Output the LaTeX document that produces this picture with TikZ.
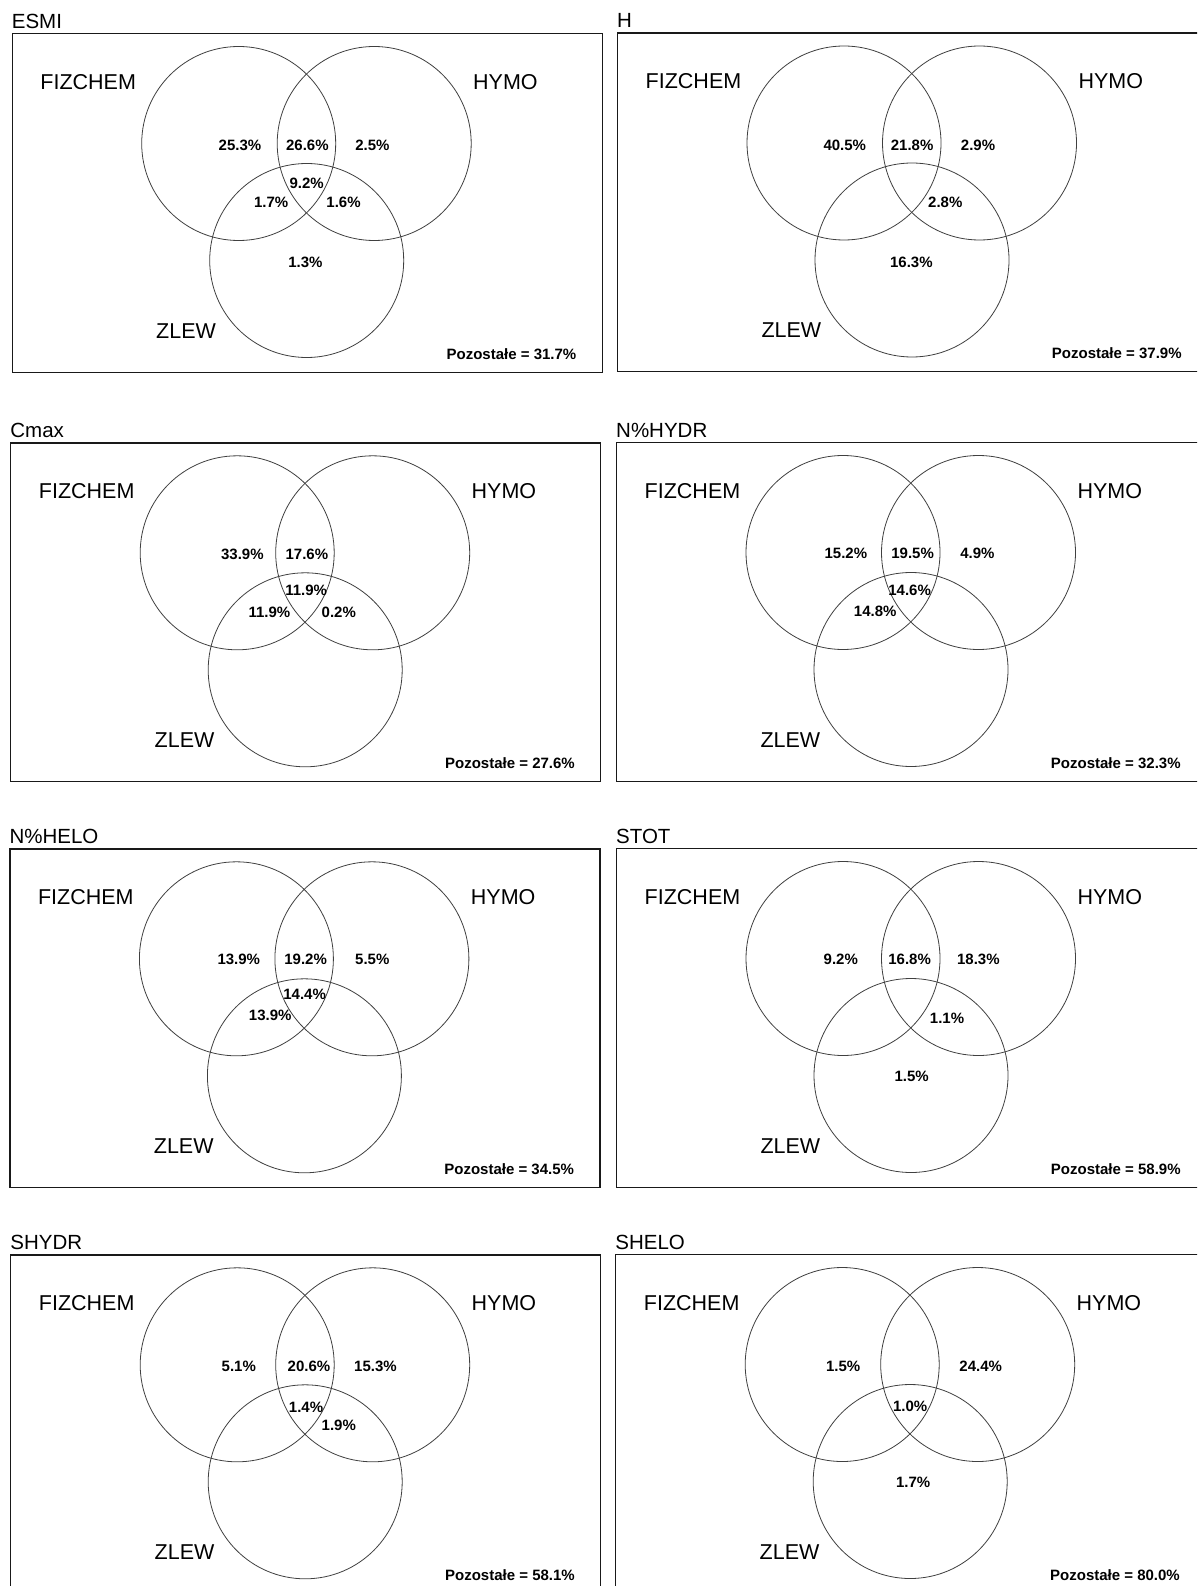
\documentclass[tikz,border=0pt]{standalone}
\usepackage{fontspec}
\setmainfont{Liberation Sans}
\tikzset{
  panelbox/.style={draw=black!90, line width=1.2pt, rectangle, inner sep=0pt,
    minimum width=590pt, minimum height=338.5pt, anchor=north west},
  vcirc/.style={circle, draw=black!75, line width=0.8pt, minimum size=194pt, inner sep=0pt},
  settitle/.style={anchor=base west, inner sep=0pt, font=\fontsize{20.5}{24}\selectfont},
  setname/.style={anchor=base west, inner sep=0pt, font=\fontsize{21.5}{25}\selectfont},
  pct/.style={anchor=center, inner sep=0pt, font=\bfseries\fontsize{15}{17}\selectfont},
  remain/.style={anchor=base east, inner sep=0pt, font=\bfseries\fontsize{15}{17}\selectfont},
}
\newcommand\vennpanel[6]{%
  \begin{scope}[shift={(#2,#3)}]
    \node[panelbox] (#1box) at (0,0) {};
    \node[settitle] (#1title) at (0,-4.5) {#4};
    \node[vcirc] (#1F) at (227,110.5) {};
    \node[vcirc] (#1H) at (362.5,110.5) {};
    \node[vcirc] (#1Z) at (295,227.5) {};
    \node[setname] (#1nF) at (28.5,56.3) {FIZCHEM};
    \node[setname] (#1nH) at (461.3,56.3) {HYMO};
    \node[setname] (#1nZ) at (144.3,305.3) {ZLEW};
    \node[remain] (#1rem) at (564.8,326.3) {Pozostałe = #5};
    \foreach \px/\py/\txt [count=\i] in {#6} {
      \node[pct] (#1p\i) at (\px,\py) {\txt};
    }
  \end{scope}}
\begin{document}
\begin{tikzpicture}[x=1pt,y=-1pt]
  \useasboundingbox (0,0) rectangle (1197,1586);
  \clip (0,0) rectangle (1197,1586);
  \fill[white] (0,0) rectangle (1197,1586);
  \vennpanel{a}{11.7}{33}{ESMI}{31.7\%}{228.3/112/25.3\%, 295.7/112/26.6\%, 360.7/112/2.5\%, 295/150/9.2\%, 259.5/169/1.7\%, 331.8/169/1.6\%, 293.7/229.7/1.3\%}
  \vennpanel{b}{617}{32.5}{H}{37.9\%}{227.8/113.2/40.5\%, 295.1/113.2/21.8\%, 361/113.2/2.9\%, 328.3/170.2/2.8\%, 294.4/229.8/16.3\%}
  \vennpanel{c}{10.2}{442.3}{Cmax}{27.6\%}{232.2/111.7/33.9\%, 296.7/111.7/17.6\%, 295.9/148.4/11.9\%, 259.2/170/11.9\%, 328.6/170/0.2\%}
  \vennpanel{d}{616}{442}{N\%HYDR}{32.3\%}{229.9/111.5/15.2\%, 296.6/111.5/19.5\%, 361.4/111.5/4.9\%, 293.6/147.9/14.6\%, 259.2/169.1/14.8\%}
  \vennpanel{e}{9.4}{848.3}{N\%HELO}{34.5\%}{229.4/110.9/13.9\%, 296.2/110.9/19.2\%, 362.9/110.9/5.5\%, 295.2/146.3/14.4\%, 260.8/167.5/13.9\%}
  \vennpanel{f}{616}{848}{STOT}{58.9\%}{224.8/111.2/9.2\%, 293.6/111.2/16.8\%, 362.4/111.2/18.3\%, 331/169.9/1.1\%, 295.6/228.6/1.5\%}
  \vennpanel{g}{10.2}{1254.3}{SHYDR}{58.1\%}{228.6/112.4/5.1\%, 298.8/112.4/20.6\%, 365.3/112.4/15.3\%, 295.8/153/1.4\%, 328.6/171/1.9\%}
  \vennpanel{h}{615.2}{1254}{SHELO}{80.0\%}{228/112.7/1.5\%, 365.5/112.7/24.4\%, 295/152/1.0\%, 298/228.7/1.7\%}
\end{tikzpicture}
\end{document}
